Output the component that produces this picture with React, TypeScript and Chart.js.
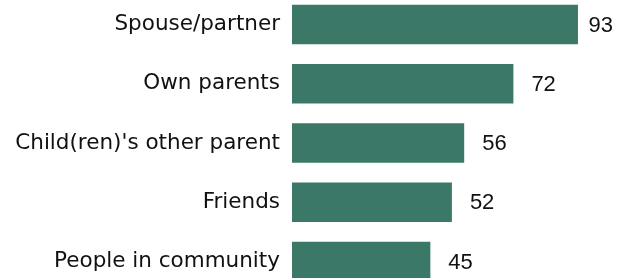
import React, { useEffect, useRef } from "react";
import { Chart, registerables } from "chart.js";

Chart.register(...registerables);

const categories = [
  "Spouse/partner",
  "Own parents",
  "Child(ren)'s other parent",
  "Friends",
  "People in community",
];
const values = [93, 72, 56, 52, 45];

const valueLabels = {
  id: "valueLabels",
  afterDatasetsDraw(chart: any) {
    const ctx = chart.ctx;
    const meta = chart.getDatasetMeta(0);
    ctx.save();
    ctx.font = "22px 'Liberation Sans', Arial, sans-serif";
    ctx.fillStyle = "#111";
    ctx.textBaseline = "middle";
    ctx.textAlign = "left";
    meta.data.forEach((bar: any, i: number) => {
      const text = String(values[i]);
      const w = ctx.measureText(text).width;
      let x = bar.x + 18;
      if (x + w > chart.width - 8) x = chart.width - 8 - w;
      ctx.fillText(text, x, bar.y + 1);
    });
    ctx.restore();
  },
};

export default function App() {
  const ref = useRef<HTMLCanvasElement>(null);
  useEffect(() => {
    if (!ref.current) return;
    const chart = new Chart(ref.current, {
      type: "bar",
      data: {
        labels: categories,
        datasets: [
          {
            data: values,
            backgroundColor: "#3b7867",
            borderWidth: 0,
            barPercentage: 0.67,
            categoryPercentage: 1,
          },
        ],
      },
      options: {
        indexAxis: "y",
        animation: false,
        responsive: false,
        maintainAspectRatio: false,
        layout: { padding: 0 },
        plugins: { legend: { display: false }, tooltip: { enabled: false } },
        scales: {
          x: { display: false, min: 0, max: 107 },
          y: {
            grid: { display: false, drawTicks: false },
            border: { display: false },
            ticks: {
              padding: 12,
              color: "#111",
              font: { family: "'DejaVu Sans'", size: 21.5 },
            },
            afterFit(scale: any) {
              scale.width = 292;
            },
          },
        },
      },
      plugins: [valueLabels],
    });
    return () => chart.destroy();
  }, []);
  return (
    <div style={{ position: "fixed", left: 0, top: -30, width: 621, height: 346 }}>
      <canvas ref={ref} width={621} height={346} />
    </div>
  );
}
